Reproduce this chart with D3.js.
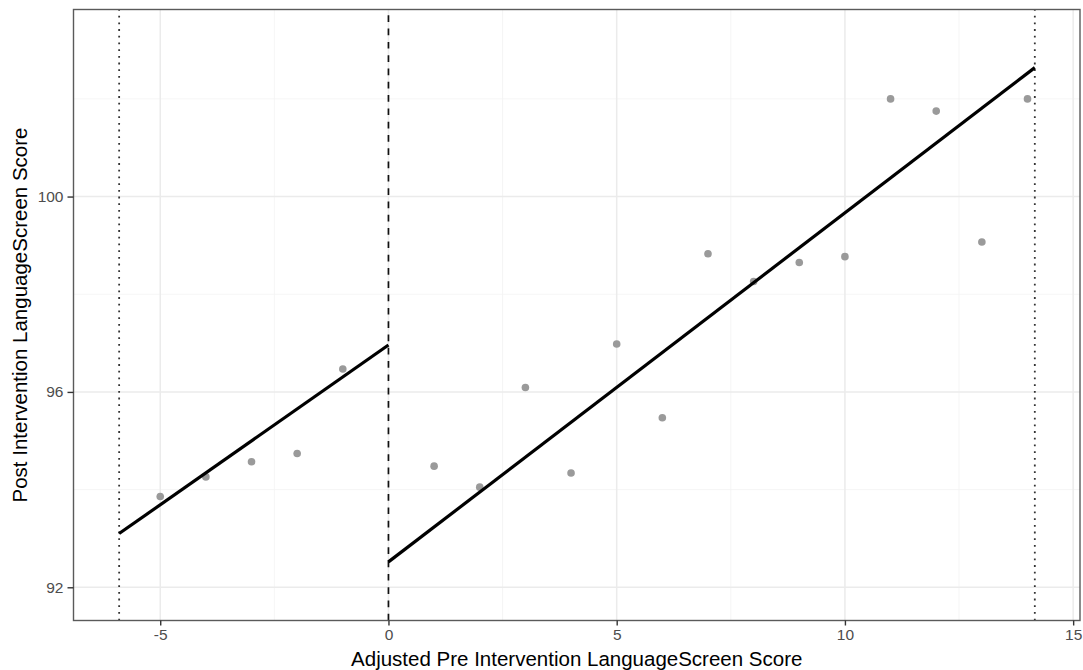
<!DOCTYPE html>
<html>
<head>
<meta charset="utf-8">
<script src="https://d3js.org/d3.v7.min.js"></script>
<style>
  body { margin: 0; background: #fff; }
  text { font-family: "Liberation Sans", Arial, sans-serif; }
</style>
</head>
<body>
<script>
// data
var preX = [-5, -4, -3, -2, -1];
var preY = [93.86, 94.26, 94.57, 94.74, 96.47];
var postX = [1, 2, 3, 4, 5, 6, 7, 8, 9, 10, 11, 12, 13, 14];
var postY = [94.48, 94.05, 96.09, 94.34, 96.98, 95.47, 98.83, 98.26, 98.65, 98.77, 102.0, 101.75, 99.07, 102.0];
// fitted lines (start, end)
var fitPre = [[-5.9, 93.10], [0, 96.96]];
var fitPost = [[0, 92.52], [14.16, 102.64]];
var cutoffs = [-5.9, 14.16];
var xTicks = [-5, 0, 5, 10, 15];
var xMinor = [-2.5, 2.5, 7.5, 12.5];
var yTicks = [92, 96, 100];
var yMinor = [94, 98, 102];

var width = 1083, height = 670;
var margin = {left: 73.5, right: 3, top: 9.5, bottom: 49.5};

var svg = d3.select("body").append("svg")
    .attr("width", width)
    .attr("height", height);

var x = d3.scaleLinear()
    .domain([-6.9, 15.15])
    .range([margin.left, width - margin.right]);
var y = d3.scaleLinear()
    .domain([91.32, 103.83])
    .range([height - margin.bottom, margin.top]);

var panel = svg.append("g");

// grid
panel.selectAll(".xminor").data(xMinor).join("line")
    .attr("x1", d => x(d)).attr("x2", d => x(d))
    .attr("y1", y.range()[0]).attr("y2", y.range()[1])
    .attr("stroke", "#f2f2f2").attr("stroke-width", 0.8);
panel.selectAll(".yminor").data(yMinor).join("line")
    .attr("y1", d => y(d)).attr("y2", d => y(d))
    .attr("x1", x.range()[0]).attr("x2", x.range()[1])
    .attr("stroke", "#f2f2f2").attr("stroke-width", 0.8);
panel.selectAll(".xmajor").data(xTicks).join("line")
    .attr("x1", d => x(d)).attr("x2", d => x(d))
    .attr("y1", y.range()[0]).attr("y2", y.range()[1])
    .attr("stroke", "#ebebeb").attr("stroke-width", 1.5);
panel.selectAll(".ymajor").data(yTicks).join("line")
    .attr("y1", d => y(d)).attr("y2", d => y(d))
    .attr("x1", x.range()[0]).attr("x2", x.range()[1])
    .attr("stroke", "#ebebeb").attr("stroke-width", 1.5);

// cutoff lines
panel.selectAll(".cut").data(cutoffs).join("line")
    .attr("x1", d => x(d)).attr("x2", d => x(d))
    .attr("y1", y.range()[0]).attr("y2", y.range()[1])
    .attr("stroke", "#333").attr("stroke-width", 1.8)
    .attr("stroke-dasharray", "1.8,4.9");
panel.append("line")
    .attr("x1", x(0)).attr("x2", x(0))
    .attr("y1", y.range()[0]).attr("y2", y.range()[1])
    .attr("stroke", "#111").attr("stroke-width", 1.7)
    .attr("stroke-dasharray", "6.7,6.6");

// points
var pts = preX.map((d, i) => [d, preY[i]]).concat(postX.map((d, i) => [d, postY[i]]));
panel.selectAll(".pt").data(pts).join("circle")
    .attr("cx", d => x(d[0])).attr("cy", d => y(d[1]))
    .attr("r", 3.8).attr("fill", "#9a9a9a");

// fit lines
var line = d3.line().x(d => x(d[0])).y(d => y(d[1]));
[fitPre, fitPost].forEach(function(f) {
  panel.append("path").attr("d", line(f))
      .attr("fill", "none").attr("stroke", "#000").attr("stroke-width", 3.2);
});

// border
svg.append("rect")
    .attr("x", x.range()[0]).attr("y", y.range()[1])
    .attr("width", x.range()[1] - x.range()[0])
    .attr("height", y.range()[0] - y.range()[1])
    .attr("fill", "none").attr("stroke", "#5a5a5a").attr("stroke-width", 1.4);

// axes
var xAxis = svg.append("g")
    .attr("transform", "translate(0," + y.range()[0] + ")")
    .call(d3.axisBottom(x).tickValues(xTicks).tickSize(5).tickPadding(3).tickFormat(d3.format("d")));
var yAxis = svg.append("g")
    .attr("transform", "translate(" + x.range()[0] + ",0)")
    .call(d3.axisLeft(y).tickValues(yTicks).tickSize(6).tickPadding(4));
[xAxis, yAxis].forEach(function(a) {
  a.select(".domain").remove();
  a.selectAll(".tick line").attr("stroke", "#333").attr("stroke-width", 1.4);
  a.selectAll(".tick text").attr("fill", "#4d4d4d")
      .style("font-size", "15.5px").style("font-family", "Liberation Sans, Arial, sans-serif");
});
xAxis.selectAll(".tick text").text(d => d < 0 ? "-" + Math.abs(d) : d);

// titles
svg.append("text")
    .attr("x", (x.range()[0] + x.range()[1]) / 2)
    .attr("y", 666)
    .attr("text-anchor", "middle")
    .style("font-size", "20.5px")
    .text("Adjusted Pre Intervention LanguageScreen Score");
svg.append("text")
    .attr("transform", "translate(27," + ((y.range()[0] + y.range()[1]) / 2) + ") rotate(-90)")
    .attr("text-anchor", "middle")
    .style("font-size", "20.5px")
    .text("Post Intervention LanguageScreen Score");
</script>
</body>
</html>
